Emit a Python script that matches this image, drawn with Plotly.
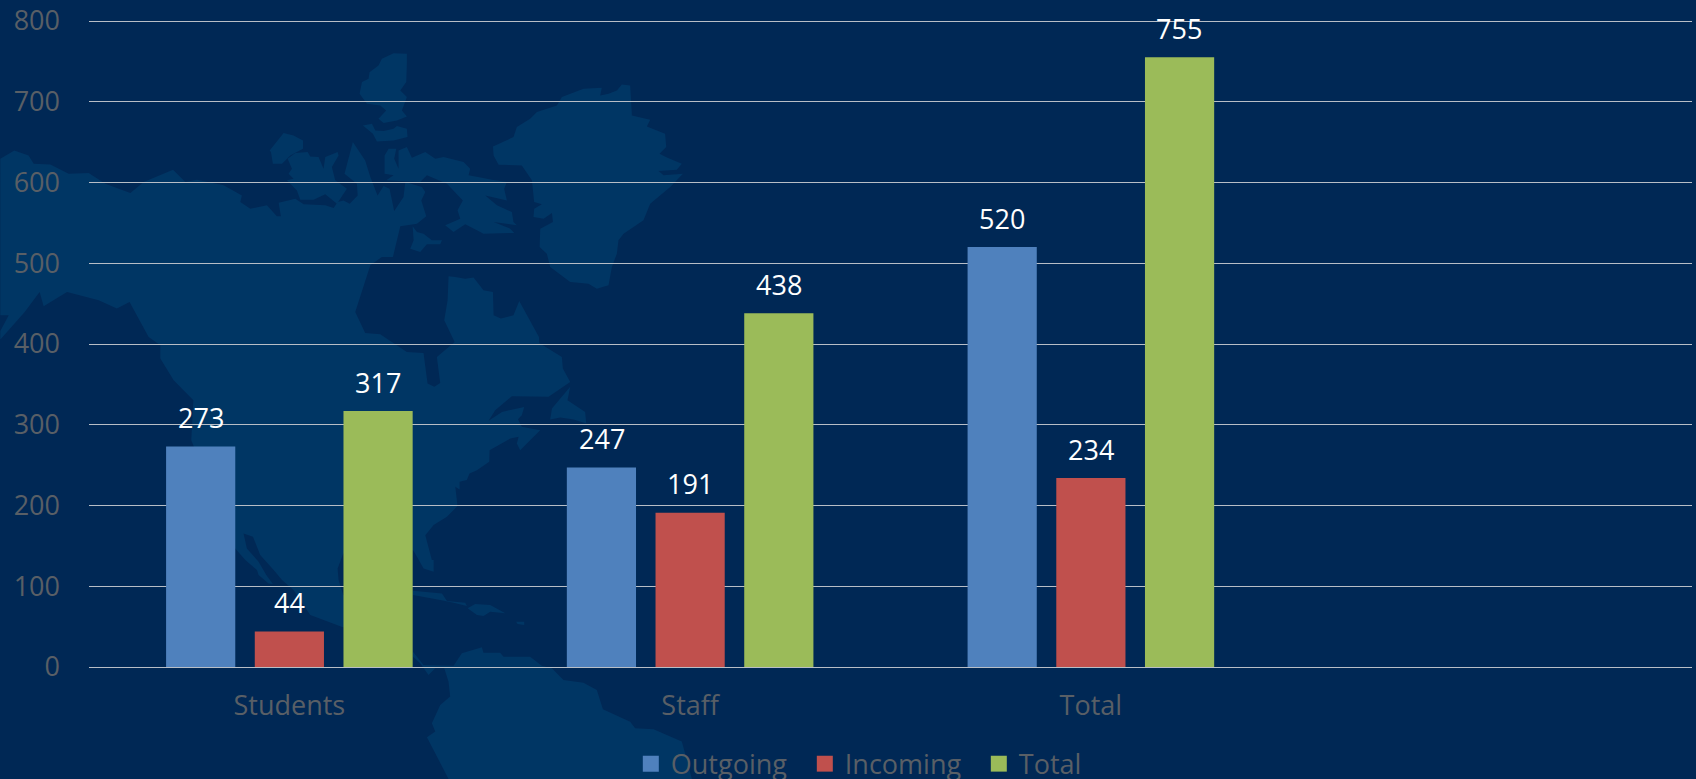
import plotly.graph_objects as go

categories = ["Students", "Staff", "Total", " "]
outgoing = [273, 247, 520, None]
incoming = [44, 191, 234, None]
total = [317, 438, 755, None]
y_ticks = [0, 100, 200, 300, 400, 500, 600, 700, 800]

W, H = 1696, 779
L, R, T, B = 88.7, 4, 18.5, 112
BG, LAND = "#002855", "#003664"
TXT = "#595f66"
FONT = "Open Sans"
SIZE = 27


def crop(x0, y0, pts):
    return [(x0 + x / 3, y0 + y / 3) for x, y in pts]


# Decorative background map, in page pixels
north_america = (
    crop(0, 140, [(0,55),(42,30),(85,45),(100,70),(150,72),(205,100),(265,98),(315,130),(390,158),(430,125),(518,88),(555,125),(590,118),(670,135),(725,165),(720,185)])
    + crop(250, 40, [(0,505),(50,495),(80,528),(92,528),(85,487),(135,475),(160,492),(225,495),(250,503),(262,485),(280,480),(298,490),(322,465),(320,430),(283,400),(308,305),(345,360),(360,410),(382,465),(400,437),(418,445),(432,512),(460,470),(465,425),(515,440),(525,455),(513,480),(528,528),(500,550),(450,558),(428,650),(395,650),(360,675)])
    + crop(340, 260, [(45,155),(75,218),(120,222),(200,275),(250,278),(262,370),(282,380),(300,368),(290,290),(343,245),(312,180),(322,120),(325,48),(345,50),(375,55),(400,52),(430,90),(458,95),(460,165),(482,175),(520,165),(537,122),(596,230),(597,248),(665,290),(668,325),(690,365),(625,410),(515,408),(465,450),(445,482),(485,455),(552,440),(545,465),(533,477),(545,500),(600,510),(575,535),(540,570),(530,550),(535,530),(510,535),(448,570),(447,605),(410,630),(388,640),(380,660),(358,665),(358,688),(345,680),(352,738),(320,770),(280,795),(255,825),(275,900)])
    + crop(220, 500, [(640,180),(640,215),(610,205),(590,170),(578,150),(369,160),(352,205),(355,240),(369,285),(480,300),(480,392)])
    + crop(230, 520, [(338,322),(240,285),(190,210),(155,180),(130,150),(90,105),(68,50),(40,40),(50,85),(85,125),(108,165),(128,192),(115,190),(85,165),(80,150),(45,120),(15,85)])
    + [(191, 440), (193, 400)]
    + crop(0, 140, [(520,720),(480,655),(480,615),(445,590),(388,485),(350,505),(295,480),(200,455),(130,498),(118,455),(73,515),(0,598),(0,572),(25,525),(0,525)])
)
south_america = crop(220, 500, [(578,455),(610,495),(700,497),(725,460),(785,442),(790,458),(840,458),(850,470),(930,470),(965,497),(995,505),(1030,540),(1090,548),(1130,570),(1148,628),(1230,665),(1245,685),(1300,688),(1385,725),(1400,780),(1415,837),(685,837),(620,712),(645,695),(635,670),(660,615),(690,590),(685,545),(672,505),(645,505),(625,525),(600,490),(578,470)])
MAP = [
    north_america,
    south_america,
    crop(250, 40, [(470,40),(430,38),(395,55),(385,75),(358,95),(355,115),(335,125),(328,160),(350,190),(390,195),(408,210),(385,235),(400,248),(440,240),(470,228),(455,210),(470,170),(450,150),(468,125),(470,70)]),
    crop(250, 40, [(338,255),(365,250),(375,270),(400,272),(430,265),(440,257),(470,265),(472,290),(430,300),(380,303),(368,280)]),
    crop(250, 40, [(58,330),(100,278),(130,285),(158,300),(158,325),(120,345),(95,370),(68,370),(62,335)]),
    crop(250, 40, [(112,355),(135,338),(172,335),(180,348),(205,350),(220,385),(225,350),(262,335),(265,345),(245,380),(255,420),(290,445),(280,460),(260,490),(225,462),(190,478),(150,478),(140,450),(110,420),(130,415),(115,400),(125,385)]),
    crop(250, 40, [(403,400),(403,345),(415,325),(438,325),(432,355),(445,385),(445,330),(470,320),(485,352),(525,335),(555,355),(580,350),(640,365),(660,385),(655,405),(695,412),(725,418),(770,425),(762,445),(770,480),(705,465),(740,495),(785,515),(790,545),(800,555),(730,545),(780,565),(792,578),(700,580),(680,570),(645,552),(610,575),(585,555),(630,535),(622,510),(638,480),(590,430),(530,405),(510,425),(408,420),(430,405)]),
    crop(250, 40, [(487,558),(500,575),(520,580),(545,600),(575,600),(570,612),(530,612),(510,635),(480,625),(490,600)]),
    crop(250, 40, [(728,318),(790,290),(800,260),(840,235),(860,215),(920,195),(935,170),(1000,145),(1055,142),(1050,165),(1075,160),(1100,150),(1115,132),(1140,135),(1145,225),(1200,238),(1190,258),(1245,280),(1248,320),(1228,340),(1252,352),(1295,370),(1280,388),(1225,392),(1240,405),(1298,400),(1260,440),(1200,490),(1180,540),(1120,580),(1105,600),(1100,640),(1085,680),(1075,735),(1040,745),(1015,730),(960,725),(900,680),(890,640),(868,620),(870,565),(908,545),(905,518),(880,535),(850,530),(852,505),(875,492),(852,485),(845,420),(815,375),(745,373),(730,345)]),
    crop(340, 260, [(690,380),(682,420),(735,455),(738,490),(700,478),(660,472),(630,478),(635,445)]),
    crop(220, 500, [(578,272),(665,280),(680,303),(735,308),(740,318),(700,308),(660,300),(578,285)]),
    crop(220, 500, [(742,325),(765,312),(810,315),(855,340),(810,335),(790,348),(770,345)]),
    crop(220, 500, [(888,365),(912,365),(912,375),(892,372)]),
]


def map_path(points):
    cx = lambda v: (v - L) / (W - L - R)
    cy = lambda v: 1 - (v - T) / (H - T - B)
    return "M" + "L".join(f"{cx(x):.4f},{cy(y):.4f}" for x, y in points) + "Z"


shapes = [dict(type="path", xref="paper", yref="paper", path=map_path(p),
               fillcolor=LAND, line_width=0, layer="below") for p in MAP]

fig = go.Figure()
series = [("Outgoing", outgoing, "#4F81BD"), ("Incoming", incoming, "#C0504D"), ("Total", total, "#9BBB59")]
for name, vals, col in series:
    fig.add_bar(name=name, x=categories, y=vals, marker=dict(color=col, line_width=0), showlegend=False)
# Legend keys: the bar legend swatch is a fixed 12px, the reference's is 17px
for name, vals, col in series:
    fig.add_scatter(name=name, x=[None], y=[None], mode="markers",
                    marker=dict(symbol="square", size=16, color=col))

annotations = []
for k, (name, vals, col) in enumerate(series):
    for c, v in zip(categories, vals):
        if v is not None:
            annotations.append(dict(x=c, y=v, xref="x", yref="y", text=str(v), showarrow=False,
                                    xshift=(k - 1) * 88.6, yshift=29, yanchor="middle",
                                    font=dict(family=FONT, size=SIZE, color="#ffffff")))

fig.update_layout(
    width=W, height=H, autosize=False,
    margin=dict(l=L, r=R, t=T, b=B, pad=0, autoexpand=False),
    paper_bgcolor=BG, plot_bgcolor="rgba(0,0,0,0)",
    barmode="group", bargap=0.336, bargroupgap=0.22,
    font=dict(family=FONT, size=SIZE, color=TXT),
    shapes=shapes, annotations=annotations,
    showlegend=True,
    legend=dict(orientation="h", x=0.338, xanchor="left", y=-0.112, yanchor="top",
                font=dict(family=FONT, size=SIZE, color=TXT), bgcolor="rgba(0,0,0,0)",
                itemwidth=30, entrywidth=129, entrywidthmode="pixels", traceorder="normal"),
    xaxis=dict(type="category", categoryorder="array", categoryarray=categories,
               range=[-0.5, 3.5], showgrid=False, zeroline=False, showline=False,
               ticks="", tickfont=dict(family=FONT, size=SIZE, color=TXT), ticklabelstandoff=20),
    yaxis=dict(range=[0, 802.5], tickvals=y_ticks, showgrid=True, gridcolor="#b8bec6", gridwidth=1,
               zeroline=True, zerolinecolor="#b8bec6", zerolinewidth=1, showline=False,
               ticks="", tickfont=dict(family=FONT, size=SIZE, color=TXT), ticklabelstandoff=28),
)
fig.write_html("out.html", config=dict(displayModeBar=False),
               post_script="document.body.style.margin='0';document.body.style.background='%s';document.body.style.overflow='hidden';" % BG)
